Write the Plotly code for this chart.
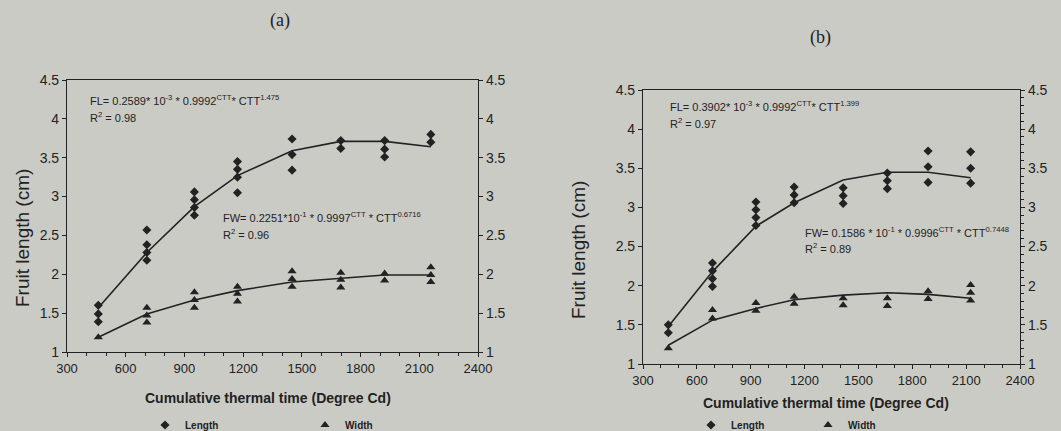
import plotly.graph_objects as go

W, H = 1061, 431

# ---------------- data ----------------
ctt_a = [460, 708, 951, 1171, 1450, 1699, 1923, 2159]
length_pts_a = [[1.60, 1.49, 1.39], [2.57, 2.38, 2.28, 2.18], [3.06, 2.96, 2.86, 2.76],
                [3.45, 3.35, 3.25, 3.05], [3.74, 3.54, 3.34], [3.72, 3.62],
                [3.72, 3.61, 3.51], [3.80, 3.70]]
width_pts_a = [[1.19], [1.57, 1.47, 1.38], [1.77, 1.67, 1.57], [1.84, 1.75, 1.65],
               [2.04, 1.94, 1.84], [2.02, 1.93, 1.83], [2.01, 1.92], [2.09, 1.99, 1.90]]
length_fit_a = [1.57, 2.28, 2.87, 3.27, 3.59, 3.71, 3.71, 3.64]
width_fit_a = [1.19, 1.49, 1.67, 1.79, 1.90, 1.95, 1.99, 1.99]

ctt_b = [441, 687, 929, 1142, 1415, 1661, 1888, 2125]
length_pts_b = [[1.50, 1.40], [2.29, 2.19, 2.09, 1.99], [3.07, 2.97, 2.87, 2.77],
                [3.26, 3.16, 3.06], [3.25, 3.15, 3.05], [3.44, 3.34, 3.24],
                [3.72, 3.52, 3.32], [3.71, 3.50, 3.31]]
width_pts_b = [[1.20], [1.69, 1.58], [1.78, 1.68], [1.86, 1.77], [1.84, 1.75],
               [1.84, 1.74], [1.93, 1.83], [2.01, 1.91, 1.81]]
length_fit_b = [1.48, 2.18, 2.76, 3.06, 3.35, 3.45, 3.45, 3.38]
width_fit_b = [1.24, 1.56, 1.71, 1.82, 1.88, 1.91, 1.89, 1.84]

x_ticks = [300, 600, 900, 1200, 1500, 1800, 2100, 2400]
y_ticks = [1, 1.5, 2, 2.5, 3, 3.5, 4, 4.5]

eq_a_fl = "FL= 0.2589* 10<sup>-3</sup> * 0.9992<sup>CTT</sup>* CTT<sup>1.475</sup>"
eq_a_fl_r2 = "R<sup>2</sup> = 0.98"
eq_a_fw = "FW= 0.2251*10<sup>-1</sup> * 0.9997<sup>CTT</sup> * CTT<sup>0.6716</sup>"
eq_a_fw_r2 = "R<sup>2</sup> = 0.96"
eq_b_fl = "FL= 0.3902* 10<sup>-3</sup> * 0.9992<sup>CTT</sup>* CTT<sup>1.399</sup>"
eq_b_fl_r2 = "R<sup>2</sup> = 0.97"
eq_b_fw = "FW= 0.1586 * 10<sup>-1</sup> * 0.9996<sup>CTT</sup> * CTT<sup>0.7448</sup>"
eq_b_fw_r2 = "R<sup>2</sup> = 0.89"

# ---------------- styling ----------------
BG = "#cbcbc6"
INK = "#222222"
FONT = "Liberation Sans, Arial, sans-serif"


def px(x):
    return x / W


def py(y):
    return 1 - y / H


def flat(xs, groups):
    fx, fy = [], []
    for x, g in zip(xs, groups):
        for v in g:
            fx.append(x)
            fy.append(v)
    return fx, fy


fig = go.Figure()

panels = [
    dict(ctt=ctt_a, lp=length_pts_a, wp=width_pts_a, lf=length_fit_a, wf=width_fit_a,
         xa="x", ya="y", leg="legend"),
    dict(ctt=ctt_b, lp=length_pts_b, wp=width_pts_b, lf=length_fit_b, wf=width_fit_b,
         xa="x2", ya="y3", leg="legend2"),
]

for p in panels:
    lx, ly = flat(p["ctt"], p["lp"])
    wx, wy = flat(p["ctt"], p["wp"])
    fig.add_trace(go.Scatter(x=p["ctt"], y=p["lf"], mode="lines", line=dict(color=INK, width=1.6),
                             xaxis=p["xa"], yaxis=p["ya"], showlegend=False, hoverinfo="skip"))
    fig.add_trace(go.Scatter(x=p["ctt"], y=p["wf"], mode="lines", line=dict(color=INK, width=1.6),
                             xaxis=p["xa"], yaxis=p["ya"], showlegend=False, hoverinfo="skip"))
    fig.add_trace(go.Scatter(x=lx, y=ly, mode="markers", name="<b>Length</b>",
                             marker=dict(symbol="diamond", size=7, color=INK),
                             xaxis=p["xa"], yaxis=p["ya"], legend=p["leg"]))
    fig.add_trace(go.Scatter(x=wx, y=wy, mode="markers", name="<b>Width</b>",
                             marker=dict(symbol="triangle-up", size=8, color=INK),
                             xaxis=p["xa"], yaxis=p["ya"], legend=p["leg"]))

common_x = dict(range=[300, 2400], tickvals=x_ticks, ticks="outside", ticklen=4, tickcolor=INK,
                showline=True, linecolor=INK, linewidth=1.2, mirror=True, showgrid=False,
                zeroline=False, tickfont=dict(size=13, color=INK, family=FONT),
                minor=dict(dtick=100, ticks="outside", ticklen=3, tickcolor=INK))
common_y = dict(range=[1, 4.5], tickvals=y_ticks, ticks="outside", ticklen=4, tickcolor=INK,
                showline=True, linecolor=INK, linewidth=1.2, showgrid=False, zeroline=False,
                tickfont=dict(size=14, color=INK, family=FONT))

dom_a_y = [py(352), py(80)]
dom_b_y = [py(364), py(90)]

fig.update_layout(
    width=W, height=H,
    paper_bgcolor=BG, plot_bgcolor=BG,
    margin=dict(l=0, r=0, t=0, b=0, autoexpand=False),
    font=dict(family=FONT, color=INK),
    xaxis=dict(domain=[px(67), px(478)], anchor="y", **common_x),
    yaxis=dict(domain=dom_a_y, anchor="x", **common_y),
    yaxis2=dict(domain=dom_a_y, anchor="x", overlaying="y", side="right", **common_y),
    xaxis2=dict(domain=[px(643), px(1020)], anchor="y3", **common_x),
    yaxis3=dict(domain=dom_b_y, anchor="x2", **common_y),
    yaxis4=dict(domain=dom_b_y, anchor="x2", overlaying="y3", side="right",
                minor=dict(dtick=0.1, ticks="outside", ticklen=3, tickcolor=INK), **common_y),
    legend=dict(orientation="h", x=px(145), y=py(425), xanchor="left", yanchor="middle",
                bgcolor="rgba(0,0,0,0)", entrywidth=115, entrywidthmode="pixels",
                font=dict(size=10, color=INK, family=FONT)),
    legend2=dict(orientation="h", x=px(691), y=py(425), xanchor="left", yanchor="middle",
                 bgcolor="rgba(0,0,0,0)", entrywidth=72, entrywidthmode="pixels",
                 font=dict(size=10, color=INK, family=FONT)),
)

# dummy traces so the right axes are drawn
fig.add_trace(go.Scatter(x=[None], y=[None], xaxis="x", yaxis="y2", showlegend=False))
fig.add_trace(go.Scatter(x=[None], y=[None], xaxis="x2", yaxis="y4", showlegend=False))

ann = []


def text(x, y, s, size, xanchor="center", yanchor="middle", **kw):
    d = dict(x=px(x), y=py(y), xref="paper", yref="paper", text=s, showarrow=False,
             xanchor=xanchor, yanchor=yanchor,
             font=dict(size=size, color=INK, family=kw.pop("family", FONT)))
    d.update(kw)
    ann.append(d)


text(280, 20, "(a)", 18, family="Liberation Serif, Times New Roman, serif")
text(820, 37, "(b)", 18, family="Liberation Serif, Times New Roman, serif")
text(23, 238, "Fruit length (cm)", 19, textangle=-90)
text(578, 250, "Fruit length (cm)", 19, textangle=-90)
text(268, 398, "<b>Cumulative thermal time (Degree Cd)</b>", 14)
text(826, 403, "<b>Cumulative thermal time (Degree Cd)</b>", 14)

text(88, 100, eq_a_fl, 11, xanchor="left")
text(88, 117, eq_a_fl_r2, 11, xanchor="left")
text(221, 217, eq_a_fw, 11, xanchor="left")
text(221, 234, eq_a_fw_r2, 11, xanchor="left")
text(668, 106, eq_b_fl, 11, xanchor="left")
text(668, 123, eq_b_fl_r2, 11, xanchor="left")
text(803, 232, eq_b_fw, 11, xanchor="left")
text(803, 248, eq_b_fw_r2, 11, xanchor="left")

fig.update_layout(annotations=ann)

fig.write_html("out.html", config={"displayModeBar": False},
               post_script="document.body.style.margin='0';document.body.style.overflow='hidden';")
